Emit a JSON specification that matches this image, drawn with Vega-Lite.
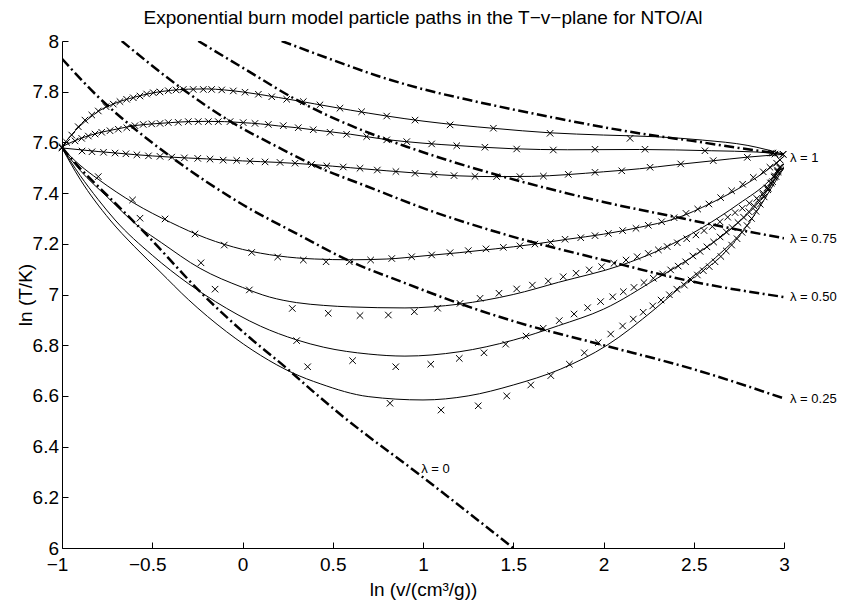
{
  "$schema": "https://vega.github.io/schema/vega-lite/v6.json",
  "width": 722,
  "height": 507,
  "autosize": {"type": "none"},
  "padding": {"left": 62, "top": 41, "right": 57, "bottom": 54},
  "background": "white",
  "config": {
    "view": {"stroke": null},
    "font": "Liberation Sans",
    "axis": {
      "grid": false,
      "domainColor": "black",
      "domainWidth": 1,
      "tickColor": "black",
      "tickWidth": 1,
      "tickSize": -6,
      "labelColor": "black",
      "labelFont": "Liberation Sans",
      "labelFontSize": 19,
      "labelFlush": false,
      "labelOverlap": false,
      "titleFont": "Liberation Sans",
      "titleFontSize": 19,
      "titleFontWeight": "normal",
      "titleColor": "black"
    }
  },
  "title": {
    "text": "Exponential burn model particle paths in the T−v−plane for NTO/Al",
    "font": "Liberation Sans",
    "fontSize": 19,
    "fontWeight": "normal",
    "color": "black",
    "anchor": "middle",
    "baseline": "alphabetic",
    "offset": -11
  },
  "datasets": {
    "lam": [
      {"c": "L1", "x": 0.217, "y": 8}, {"c": "L1", "x": 0.5, "y": 7.925}, {"c": "L1", "x": 0.75, "y": 7.862}, {"c": "L1", "x": 1, "y": 7.81}, {"c": "L1", "x": 1.25, "y": 7.768}, {"c": "L1", "x": 1.5, "y": 7.73}, {"c": "L1", "x": 1.75, "y": 7.694}, {"c": "L1", "x": 2, "y": 7.66}, {"c": "L1", "x": 2.25, "y": 7.63}, {"c": "L1", "x": 2.5, "y": 7.605}, {"c": "L1", "x": 2.75, "y": 7.578}, {"c": "L1", "x": 3, "y": 7.553},
      {"c": "L075", "x": -0.245, "y": 8}, {"c": "L075", "x": 0, "y": 7.895}, {"c": "L075", "x": 0.33, "y": 7.756}, {"c": "L075", "x": 0.72, "y": 7.632}, {"c": "L075", "x": 0.91, "y": 7.583}, {"c": "L075", "x": 1.35, "y": 7.484}, {"c": "L075", "x": 1.76, "y": 7.406}, {"c": "L075", "x": 2, "y": 7.365}, {"c": "L075", "x": 2.39, "y": 7.307}, {"c": "L075", "x": 2.7, "y": 7.262}, {"c": "L075", "x": 3, "y": 7.222},
      {"c": "L05", "x": -0.669, "y": 8}, {"c": "L05", "x": -0.337, "y": 7.813}, {"c": "L05", "x": -0.079, "y": 7.688}, {"c": "L05", "x": 0.2, "y": 7.58}, {"c": "L05", "x": 0.402, "y": 7.508}, {"c": "L05", "x": 0.688, "y": 7.427}, {"c": "L05", "x": 1.055, "y": 7.327}, {"c": "L05", "x": 1.463, "y": 7.235}, {"c": "L05", "x": 2, "y": 7.136}, {"c": "L05", "x": 2.5, "y": 7.05}, {"c": "L05", "x": 3, "y": 6.99},
      {"c": "L025", "x": -1, "y": 7.93}, {"c": "L025", "x": -0.8, "y": 7.78}, {"c": "L025", "x": -0.6, "y": 7.655}, {"c": "L025", "x": -0.4, "y": 7.545}, {"c": "L025", "x": -0.2, "y": 7.445}, {"c": "L025", "x": 0, "y": 7.355}, {"c": "L025", "x": 0.3, "y": 7.24}, {"c": "L025", "x": 0.6, "y": 7.13}, {"c": "L025", "x": 0.9, "y": 7.045}, {"c": "L025", "x": 1.2, "y": 6.965}, {"c": "L025", "x": 1.5, "y": 6.895}, {"c": "L025", "x": 2, "y": 6.8}, {"c": "L025", "x": 2.5, "y": 6.705}, {"c": "L025", "x": 3, "y": 6.59},
      {"c": "L0", "x": -1, "y": 7.58}, {"c": "L0", "x": -0.9, "y": 7.498}, {"c": "L0", "x": -0.75, "y": 7.392}, {"c": "L0", "x": -0.53, "y": 7.235}, {"c": "L0", "x": -0.235, "y": 7.011}, {"c": "L0", "x": 0.023, "y": 6.84}, {"c": "L0", "x": 0.245, "y": 6.709}, {"c": "L0", "x": 0.392, "y": 6.617}, {"c": "L0", "x": 0.558, "y": 6.518}, {"c": "L0", "x": 0.983, "y": 6.288}, {"c": "L0", "x": 1.5, "y": 6}
    ],
    "paths": [
      {"c": "S1", "x": -1, "y": 7.583}, {"c": "S1", "x": -0.95, "y": 7.628}, {"c": "S1", "x": -0.9, "y": 7.665}, {"c": "S1", "x": -0.85, "y": 7.695}, {"c": "S1", "x": -0.8, "y": 7.722}, {"c": "S1", "x": -0.7, "y": 7.756}, {"c": "S1", "x": -0.6, "y": 7.778}, {"c": "S1", "x": -0.5, "y": 7.795}, {"c": "S1", "x": -0.4, "y": 7.805}, {"c": "S1", "x": -0.3, "y": 7.81}, {"c": "S1", "x": -0.2, "y": 7.811}, {"c": "S1", "x": -0.1, "y": 7.807}, {"c": "S1", "x": 0, "y": 7.799}, {"c": "S1", "x": 0.2, "y": 7.777}, {"c": "S1", "x": 0.4, "y": 7.752}, {"c": "S1", "x": 0.6, "y": 7.727}, {"c": "S1", "x": 0.8, "y": 7.704}, {"c": "S1", "x": 1, "y": 7.684}, {"c": "S1", "x": 1.2, "y": 7.668}, {"c": "S1", "x": 1.4, "y": 7.655}, {"c": "S1", "x": 1.7, "y": 7.638}, {"c": "S1", "x": 2, "y": 7.629}, {"c": "S1", "x": 2.3, "y": 7.622}, {"c": "S1", "x": 2.55, "y": 7.609}, {"c": "S1", "x": 2.8, "y": 7.588}, {"c": "S1", "x": 3, "y": 7.553},
      {"c": "S2", "x": -1, "y": 7.583}, {"c": "S2", "x": -0.9, "y": 7.615}, {"c": "S2", "x": -0.8, "y": 7.637}, {"c": "S2", "x": -0.7, "y": 7.652}, {"c": "S2", "x": -0.6, "y": 7.666}, {"c": "S2", "x": -0.5, "y": 7.673}, {"c": "S2", "x": -0.4, "y": 7.678}, {"c": "S2", "x": -0.3, "y": 7.682}, {"c": "S2", "x": -0.2, "y": 7.683}, {"c": "S2", "x": -0.1, "y": 7.682}, {"c": "S2", "x": 0, "y": 7.678}, {"c": "S2", "x": 0.1, "y": 7.673}, {"c": "S2", "x": 0.2, "y": 7.665}, {"c": "S2", "x": 0.3, "y": 7.658}, {"c": "S2", "x": 0.4, "y": 7.649}, {"c": "S2", "x": 0.6, "y": 7.632}, {"c": "S2", "x": 0.8, "y": 7.611}, {"c": "S2", "x": 1, "y": 7.597}, {"c": "S2", "x": 1.2, "y": 7.587}, {"c": "S2", "x": 1.5, "y": 7.575}, {"c": "S2", "x": 1.8, "y": 7.571}, {"c": "S2", "x": 2.2, "y": 7.572}, {"c": "S2", "x": 2.6, "y": 7.567}, {"c": "S2", "x": 2.85, "y": 7.562}, {"c": "S2", "x": 3, "y": 7.553},
      {"c": "S3", "x": -1, "y": 7.578}, {"c": "S3", "x": -0.8, "y": 7.564}, {"c": "S3", "x": -0.6, "y": 7.552}, {"c": "S3", "x": -0.4, "y": 7.542}, {"c": "S3", "x": -0.2, "y": 7.535}, {"c": "S3", "x": 0, "y": 7.527}, {"c": "S3", "x": 0.2, "y": 7.521}, {"c": "S3", "x": 0.4, "y": 7.512}, {"c": "S3", "x": 0.6, "y": 7.5}, {"c": "S3", "x": 0.8, "y": 7.488}, {"c": "S3", "x": 1, "y": 7.477}, {"c": "S3", "x": 1.2, "y": 7.468}, {"c": "S3", "x": 1.4, "y": 7.465}, {"c": "S3", "x": 1.6, "y": 7.466}, {"c": "S3", "x": 1.8, "y": 7.473}, {"c": "S3", "x": 2, "y": 7.484}, {"c": "S3", "x": 2.2, "y": 7.496}, {"c": "S3", "x": 2.4, "y": 7.512}, {"c": "S3", "x": 2.6, "y": 7.527}, {"c": "S3", "x": 2.8, "y": 7.542}, {"c": "S3", "x": 3, "y": 7.553},
      {"c": "S4", "x": -1, "y": 7.578}, {"c": "S4", "x": -0.9, "y": 7.51}, {"c": "S4", "x": -0.8, "y": 7.455}, {"c": "S4", "x": -0.6, "y": 7.36}, {"c": "S4", "x": -0.4, "y": 7.285}, {"c": "S4", "x": -0.2, "y": 7.222}, {"c": "S4", "x": 0, "y": 7.178}, {"c": "S4", "x": 0.2, "y": 7.152}, {"c": "S4", "x": 0.4, "y": 7.14}, {"c": "S4", "x": 0.6, "y": 7.137}, {"c": "S4", "x": 0.8, "y": 7.14}, {"c": "S4", "x": 1, "y": 7.152}, {"c": "S4", "x": 1.2, "y": 7.165}, {"c": "S4", "x": 1.4, "y": 7.18}, {"c": "S4", "x": 1.6, "y": 7.197}, {"c": "S4", "x": 1.8, "y": 7.218}, {"c": "S4", "x": 2, "y": 7.238}, {"c": "S4", "x": 2.2, "y": 7.265}, {"c": "S4", "x": 2.4, "y": 7.3}, {"c": "S4", "x": 2.6, "y": 7.362}, {"c": "S4", "x": 2.8, "y": 7.44}, {"c": "S4", "x": 2.9, "y": 7.487}, {"c": "S4", "x": 3, "y": 7.545},
      {"c": "S5", "x": -1, "y": 7.578}, {"c": "S5", "x": -0.9, "y": 7.49}, {"c": "S5", "x": -0.75, "y": 7.385}, {"c": "S5", "x": -0.57, "y": 7.265}, {"c": "S5", "x": -0.45, "y": 7.205}, {"c": "S5", "x": -0.235, "y": 7.103}, {"c": "S5", "x": 0, "y": 7.028}, {"c": "S5", "x": 0.15, "y": 6.99}, {"c": "S5", "x": 0.3, "y": 6.968}, {"c": "S5", "x": 0.45, "y": 6.957}, {"c": "S5", "x": 0.6, "y": 6.951}, {"c": "S5", "x": 0.9, "y": 6.947}, {"c": "S5", "x": 1.2, "y": 6.962}, {"c": "S5", "x": 1.5, "y": 7}, {"c": "S5", "x": 1.75, "y": 7.048}, {"c": "S5", "x": 2.1, "y": 7.116}, {"c": "S5", "x": 2.3, "y": 7.172}, {"c": "S5", "x": 2.55, "y": 7.265}, {"c": "S5", "x": 2.75, "y": 7.358}, {"c": "S5", "x": 2.92, "y": 7.45}, {"c": "S5", "x": 3, "y": 7.515},
      {"c": "S6", "x": -1, "y": 7.578}, {"c": "S6", "x": -0.9, "y": 7.47}, {"c": "S6", "x": -0.8, "y": 7.375}, {"c": "S6", "x": -0.706, "y": 7.294}, {"c": "S6", "x": -0.5, "y": 7.155}, {"c": "S6", "x": -0.3, "y": 7.043}, {"c": "S6", "x": -0.15, "y": 6.972}, {"c": "S6", "x": 0.1, "y": 6.875}, {"c": "S6", "x": 0.3, "y": 6.821}, {"c": "S6", "x": 0.45, "y": 6.792}, {"c": "S6", "x": 0.7, "y": 6.765}, {"c": "S6", "x": 0.9, "y": 6.757}, {"c": "S6", "x": 1.2, "y": 6.774}, {"c": "S6", "x": 1.5, "y": 6.82}, {"c": "S6", "x": 1.75, "y": 6.877}, {"c": "S6", "x": 2, "y": 6.942}, {"c": "S6", "x": 2.3, "y": 7.065}, {"c": "S6", "x": 2.55, "y": 7.176}, {"c": "S6", "x": 2.72, "y": 7.267}, {"c": "S6", "x": 2.87, "y": 7.373}, {"c": "S6", "x": 2.96, "y": 7.465}, {"c": "S6", "x": 3, "y": 7.505},
      {"c": "S7", "x": -1, "y": 7.578}, {"c": "S7", "x": -0.9, "y": 7.455}, {"c": "S7", "x": -0.734, "y": 7.294}, {"c": "S7", "x": -0.6, "y": 7.19}, {"c": "S7", "x": -0.457, "y": 7.09}, {"c": "S7", "x": -0.3, "y": 6.98}, {"c": "S7", "x": -0.088, "y": 6.853}, {"c": "S7", "x": 0.1, "y": 6.76}, {"c": "S7", "x": 0.28, "y": 6.69}, {"c": "S7", "x": 0.43, "y": 6.648}, {"c": "S7", "x": 0.7, "y": 6.597}, {"c": "S7", "x": 1, "y": 6.584}, {"c": "S7", "x": 1.25, "y": 6.6}, {"c": "S7", "x": 1.5, "y": 6.643}, {"c": "S7", "x": 1.76, "y": 6.705}, {"c": "S7", "x": 2.02, "y": 6.8}, {"c": "S7", "x": 2.28, "y": 6.94}, {"c": "S7", "x": 2.46, "y": 7.05}, {"c": "S7", "x": 2.62, "y": 7.145}, {"c": "S7", "x": 2.79, "y": 7.267}, {"c": "S7", "x": 2.9, "y": 7.385}, {"c": "S7", "x": 2.98, "y": 7.478}, {"c": "S7", "x": 3, "y": 7.5}
    ],
    "pts": [
      {"c": "S1", "x": -1, "y": 7.583}, {"c": "S1", "x": -0.974, "y": 7.6}, {"c": "S1", "x": -0.946, "y": 7.629}, {"c": "S1", "x": -0.91, "y": 7.662}, {"c": "S1", "x": -0.873, "y": 7.688}, {"c": "S1", "x": -0.835, "y": 7.708}, {"c": "S1", "x": -0.799, "y": 7.724}, {"c": "S1", "x": -0.756, "y": 7.741}, {"c": "S1", "x": -0.716, "y": 7.751}, {"c": "S1", "x": -0.679, "y": 7.761}, {"c": "S1", "x": -0.642, "y": 7.77}, {"c": "S1", "x": -0.605, "y": 7.776}, {"c": "S1", "x": -0.568, "y": 7.783}, {"c": "S1", "x": -0.531, "y": 7.791}, {"c": "S1", "x": -0.494, "y": 7.796}, {"c": "S1", "x": -0.457, "y": 7.799}, {"c": "S1", "x": -0.411, "y": 7.804}, {"c": "S1", "x": -0.368, "y": 7.807}, {"c": "S1", "x": -0.328, "y": 7.809}, {"c": "S1", "x": -0.273, "y": 7.809}, {"c": "S1", "x": -0.217, "y": 7.809}, {"c": "S1", "x": -0.171, "y": 7.809}, {"c": "S1", "x": -0.115, "y": 7.807}, {"c": "S1", "x": -0.051, "y": 7.803}, {"c": "S1", "x": 0.014, "y": 7.798}, {"c": "S1", "x": 0.088, "y": 7.79}, {"c": "S1", "x": 0.162, "y": 7.78}, {"c": "S1", "x": 0.245, "y": 7.77}, {"c": "S1", "x": 0.337, "y": 7.761}, {"c": "S1", "x": 0.429, "y": 7.748}, {"c": "S1", "x": 0.54, "y": 7.735}, {"c": "S1", "x": 0.66, "y": 7.721}, {"c": "S1", "x": 0.799, "y": 7.704}, {"c": "S1", "x": 0.956, "y": 7.688}, {"c": "S1", "x": 1.15, "y": 7.669}, {"c": "S1", "x": 1.39, "y": 7.656}, {"c": "S1", "x": 1.704, "y": 7.636}, {"c": "S1", "x": 2.147, "y": 7.616}, {"c": "S1", "x": 2.939, "y": 7.558}, {"c": "S1", "x": 2.995, "y": 7.553},
      {"c": "S2", "x": -0.928, "y": 7.606}, {"c": "S2", "x": -0.891, "y": 7.616}, {"c": "S2", "x": -0.854, "y": 7.625}, {"c": "S2", "x": -0.817, "y": 7.633}, {"c": "S2", "x": -0.78, "y": 7.64}, {"c": "S2", "x": -0.734, "y": 7.646}, {"c": "S2", "x": -0.688, "y": 7.652}, {"c": "S2", "x": -0.641, "y": 7.658}, {"c": "S2", "x": -0.596, "y": 7.666}, {"c": "S2", "x": -0.55, "y": 7.671}, {"c": "S2", "x": -0.503, "y": 7.673}, {"c": "S2", "x": -0.457, "y": 7.675}, {"c": "S2", "x": -0.411, "y": 7.678}, {"c": "S2", "x": -0.356, "y": 7.679}, {"c": "S2", "x": -0.3, "y": 7.682}, {"c": "S2", "x": -0.245, "y": 7.682}, {"c": "S2", "x": -0.189, "y": 7.682}, {"c": "S2", "x": -0.134, "y": 7.682}, {"c": "S2", "x": -0.069, "y": 7.682}, {"c": "S2", "x": 0.004, "y": 7.678}, {"c": "S2", "x": 0.069, "y": 7.675}, {"c": "S2", "x": 0.143, "y": 7.671}, {"c": "S2", "x": 0.226, "y": 7.666}, {"c": "S2", "x": 0.309, "y": 7.658}, {"c": "S2", "x": 0.392, "y": 7.65}, {"c": "S2", "x": 0.485, "y": 7.64}, {"c": "S2", "x": 0.577, "y": 7.632}, {"c": "S2", "x": 0.688, "y": 7.623}, {"c": "S2", "x": 0.799, "y": 7.61}, {"c": "S2", "x": 0.91, "y": 7.603}, {"c": "S2", "x": 1.048, "y": 7.594}, {"c": "S2", "x": 1.187, "y": 7.587}, {"c": "S2", "x": 1.343, "y": 7.581}, {"c": "S2", "x": 1.519, "y": 7.574}, {"c": "S2", "x": 1.722, "y": 7.57}, {"c": "S2", "x": 1.953, "y": 7.573}, {"c": "S2", "x": 2.23, "y": 7.573}, {"c": "S2", "x": 2.562, "y": 7.567}, {"c": "S2", "x": 2.93, "y": 7.558},
      {"c": "S3", "x": -1, "y": 7.578}, {"c": "S3", "x": -0.889, "y": 7.566}, {"c": "S3", "x": -0.834, "y": 7.563}, {"c": "S3", "x": -0.77, "y": 7.561}, {"c": "S3", "x": -0.706, "y": 7.558}, {"c": "S3", "x": -0.646, "y": 7.555}, {"c": "S3", "x": -0.585, "y": 7.551}, {"c": "S3", "x": -0.521, "y": 7.547}, {"c": "S3", "x": -0.457, "y": 7.545}, {"c": "S3", "x": -0.392, "y": 7.542}, {"c": "S3", "x": -0.322, "y": 7.539}, {"c": "S3", "x": -0.248, "y": 7.537}, {"c": "S3", "x": -0.18, "y": 7.534}, {"c": "S3", "x": -0.107, "y": 7.53}, {"c": "S3", "x": -0.032, "y": 7.529}, {"c": "S3", "x": 0.042, "y": 7.526}, {"c": "S3", "x": 0.125, "y": 7.523}, {"c": "S3", "x": 0.208, "y": 7.521}, {"c": "S3", "x": 0.291, "y": 7.518}, {"c": "S3", "x": 0.383, "y": 7.513}, {"c": "S3", "x": 0.467, "y": 7.507}, {"c": "S3", "x": 0.558, "y": 7.503}, {"c": "S3", "x": 0.651, "y": 7.498}, {"c": "S3", "x": 0.747, "y": 7.491}, {"c": "S3", "x": 0.85, "y": 7.485}, {"c": "S3", "x": 0.956, "y": 7.478}, {"c": "S3", "x": 1.061, "y": 7.474}, {"c": "S3", "x": 1.172, "y": 7.469}, {"c": "S3", "x": 1.288, "y": 7.466}, {"c": "S3", "x": 1.408, "y": 7.465}, {"c": "S3", "x": 1.537, "y": 7.465}, {"c": "S3", "x": 1.667, "y": 7.467}, {"c": "S3", "x": 1.805, "y": 7.474}, {"c": "S3", "x": 1.953, "y": 7.482}, {"c": "S3", "x": 2.101, "y": 7.488}, {"c": "S3", "x": 2.258, "y": 7.502}, {"c": "S3", "x": 2.428, "y": 7.515}, {"c": "S3", "x": 2.608, "y": 7.528}, {"c": "S3", "x": 2.797, "y": 7.541}, {"c": "S3", "x": 2.95, "y": 7.554},
      {"c": "S4", "x": -0.799, "y": 7.465}, {"c": "S4", "x": -0.609, "y": 7.373}, {"c": "S4", "x": -0.429, "y": 7.298}, {"c": "S4", "x": -0.263, "y": 7.239}, {"c": "S4", "x": -0.101, "y": 7.195}, {"c": "S4", "x": 0.051, "y": 7.166}, {"c": "S4", "x": 0.195, "y": 7.148}, {"c": "S4", "x": 0.337, "y": 7.136}, {"c": "S4", "x": 0.463, "y": 7.129}, {"c": "S4", "x": 0.592, "y": 7.129}, {"c": "S4", "x": 0.71, "y": 7.136}, {"c": "S4", "x": 0.827, "y": 7.142}, {"c": "S4", "x": 0.937, "y": 7.149}, {"c": "S4", "x": 1.048, "y": 7.156}, {"c": "S4", "x": 1.15, "y": 7.165}, {"c": "S4", "x": 1.251, "y": 7.173}, {"c": "S4", "x": 1.349, "y": 7.18}, {"c": "S4", "x": 1.445, "y": 7.186}, {"c": "S4", "x": 1.537, "y": 7.192}, {"c": "S4", "x": 1.62, "y": 7.199}, {"c": "S4", "x": 1.707, "y": 7.205}, {"c": "S4", "x": 1.787, "y": 7.218}, {"c": "S4", "x": 1.874, "y": 7.224}, {"c": "S4", "x": 1.953, "y": 7.232}, {"c": "S4", "x": 2.027, "y": 7.241}, {"c": "S4", "x": 2.106, "y": 7.252}, {"c": "S4", "x": 2.18, "y": 7.261}, {"c": "S4", "x": 2.248, "y": 7.273}, {"c": "S4", "x": 2.322, "y": 7.287}, {"c": "S4", "x": 2.391, "y": 7.303}, {"c": "S4", "x": 2.457, "y": 7.32}, {"c": "S4", "x": 2.522, "y": 7.337}, {"c": "S4", "x": 2.584, "y": 7.357}, {"c": "S4", "x": 2.649, "y": 7.382}, {"c": "S4", "x": 2.71, "y": 7.409}, {"c": "S4", "x": 2.771, "y": 7.435}, {"c": "S4", "x": 2.83, "y": 7.462}, {"c": "S4", "x": 2.885, "y": 7.484}, {"c": "S4", "x": 2.922, "y": 7.502}, {"c": "S4", "x": 2.959, "y": 7.518}, {"c": "S4", "x": 2.978, "y": 7.531}, {"c": "S4", "x": 2.995, "y": 7.553},
      {"c": "S5", "x": -0.568, "y": 7.301}, {"c": "S5", "x": -0.23, "y": 7.125}, {"c": "S5", "x": 0.038, "y": 7.018}, {"c": "S5", "x": 0.276, "y": 6.945}, {"c": "S5", "x": 0.475, "y": 6.926}, {"c": "S5", "x": 0.651, "y": 6.917}, {"c": "S5", "x": 0.808, "y": 6.919}, {"c": "S5", "x": 0.952, "y": 6.932}, {"c": "S5", "x": 1.081, "y": 6.946}, {"c": "S5", "x": 1.205, "y": 6.965}, {"c": "S5", "x": 1.316, "y": 6.985}, {"c": "S5", "x": 1.421, "y": 7.005}, {"c": "S5", "x": 1.519, "y": 7.022}, {"c": "S5", "x": 1.606, "y": 7.037}, {"c": "S5", "x": 1.694, "y": 7.053}, {"c": "S5", "x": 1.777, "y": 7.07}, {"c": "S5", "x": 1.848, "y": 7.084}, {"c": "S5", "x": 1.921, "y": 7.097}, {"c": "S5", "x": 1.99, "y": 7.11}, {"c": "S5", "x": 2.058, "y": 7.123}, {"c": "S5", "x": 2.125, "y": 7.136}, {"c": "S5", "x": 2.187, "y": 7.149}, {"c": "S5", "x": 2.248, "y": 7.162}, {"c": "S5", "x": 2.304, "y": 7.176}, {"c": "S5", "x": 2.353, "y": 7.189}, {"c": "S5", "x": 2.409, "y": 7.204}, {"c": "S5", "x": 2.461, "y": 7.22}, {"c": "S5", "x": 2.512, "y": 7.235}, {"c": "S5", "x": 2.557, "y": 7.252}, {"c": "S5", "x": 2.603, "y": 7.268}, {"c": "S5", "x": 2.645, "y": 7.287}, {"c": "S5", "x": 2.688, "y": 7.305}, {"c": "S5", "x": 2.729, "y": 7.323}, {"c": "S5", "x": 2.769, "y": 7.34}, {"c": "S5", "x": 2.808, "y": 7.36}, {"c": "S5", "x": 2.849, "y": 7.379}, {"c": "S5", "x": 2.885, "y": 7.399}, {"c": "S5", "x": 2.913, "y": 7.419}, {"c": "S5", "x": 2.937, "y": 7.445}, {"c": "S5", "x": 2.956, "y": 7.465}, {"c": "S5", "x": 2.968, "y": 7.484}, {"c": "S5", "x": 2.978, "y": 7.504},
      {"c": "S6", "x": -0.152, "y": 7.021}, {"c": "S6", "x": 0.3, "y": 6.818}, {"c": "S6", "x": 0.61, "y": 6.739}, {"c": "S6", "x": 0.849, "y": 6.715}, {"c": "S6", "x": 1.043, "y": 6.725}, {"c": "S6", "x": 1.201, "y": 6.748}, {"c": "S6", "x": 1.338, "y": 6.77}, {"c": "S6", "x": 1.458, "y": 6.804}, {"c": "S6", "x": 1.571, "y": 6.836}, {"c": "S6", "x": 1.666, "y": 6.867}, {"c": "S6", "x": 1.755, "y": 6.897}, {"c": "S6", "x": 1.837, "y": 6.923}, {"c": "S6", "x": 1.912, "y": 6.948}, {"c": "S6", "x": 1.984, "y": 6.972}, {"c": "S6", "x": 2.051, "y": 6.991}, {"c": "S6", "x": 2.11, "y": 7.011}, {"c": "S6", "x": 2.169, "y": 7.028}, {"c": "S6", "x": 2.224, "y": 7.047}, {"c": "S6", "x": 2.276, "y": 7.064}, {"c": "S6", "x": 2.328, "y": 7.081}, {"c": "S6", "x": 2.372, "y": 7.097}, {"c": "S6", "x": 2.414, "y": 7.112}, {"c": "S6", "x": 2.455, "y": 7.129}, {"c": "S6", "x": 2.495, "y": 7.152}, {"c": "S6", "x": 2.535, "y": 7.17}, {"c": "S6", "x": 2.573, "y": 7.188}, {"c": "S6", "x": 2.61, "y": 7.207}, {"c": "S6", "x": 2.646, "y": 7.227}, {"c": "S6", "x": 2.68, "y": 7.247}, {"c": "S6", "x": 2.713, "y": 7.264}, {"c": "S6", "x": 2.745, "y": 7.284}, {"c": "S6", "x": 2.776, "y": 7.305}, {"c": "S6", "x": 2.805, "y": 7.327}, {"c": "S6", "x": 2.833, "y": 7.35}, {"c": "S6", "x": 2.858, "y": 7.372}, {"c": "S6", "x": 2.882, "y": 7.395}, {"c": "S6", "x": 2.905, "y": 7.42}, {"c": "S6", "x": 2.925, "y": 7.44}, {"c": "S6", "x": 2.945, "y": 7.463}, {"c": "S6", "x": 2.962, "y": 7.485}, {"c": "S6", "x": 2.975, "y": 7.5},
      {"c": "S7", "x": 0.361, "y": 6.715}, {"c": "S7", "x": 0.817, "y": 6.571}, {"c": "S7", "x": 1.1, "y": 6.544}, {"c": "S7", "x": 1.306, "y": 6.561}, {"c": "S7", "x": 1.464, "y": 6.6}, {"c": "S7", "x": 1.597, "y": 6.643}, {"c": "S7", "x": 1.708, "y": 6.68}, {"c": "S7", "x": 1.811, "y": 6.725}, {"c": "S7", "x": 1.894, "y": 6.77}, {"c": "S7", "x": 1.971, "y": 6.81}, {"c": "S7", "x": 2.04, "y": 6.844}, {"c": "S7", "x": 2.106, "y": 6.876}, {"c": "S7", "x": 2.165, "y": 6.903}, {"c": "S7", "x": 2.22, "y": 6.93}, {"c": "S7", "x": 2.273, "y": 6.955}, {"c": "S7", "x": 2.319, "y": 6.978}, {"c": "S7", "x": 2.365, "y": 6.999}, {"c": "S7", "x": 2.406, "y": 7.021}, {"c": "S7", "x": 2.448, "y": 7.037}, {"c": "S7", "x": 2.485, "y": 7.057}, {"c": "S7", "x": 2.52, "y": 7.077}, {"c": "S7", "x": 2.553, "y": 7.094}, {"c": "S7", "x": 2.586, "y": 7.11}, {"c": "S7", "x": 2.618, "y": 7.129}, {"c": "S7", "x": 2.65, "y": 7.15}, {"c": "S7", "x": 2.68, "y": 7.172}, {"c": "S7", "x": 2.71, "y": 7.195}, {"c": "S7", "x": 2.74, "y": 7.22}, {"c": "S7", "x": 2.768, "y": 7.245}, {"c": "S7", "x": 2.795, "y": 7.272}, {"c": "S7", "x": 2.82, "y": 7.3}, {"c": "S7", "x": 2.845, "y": 7.328}, {"c": "S7", "x": 2.868, "y": 7.356}, {"c": "S7", "x": 2.89, "y": 7.385}, {"c": "S7", "x": 2.91, "y": 7.413}, {"c": "S7", "x": 2.93, "y": 7.44}, {"c": "S7", "x": 2.948, "y": 7.467}, {"c": "S7", "x": 2.965, "y": 7.49}
    ],
    "labels": [
      {"t": "λ = 1", "x": 3, "y": 7.537},
      {"t": "λ = 0.75", "x": 3, "y": 7.218},
      {"t": "λ = 0.50", "x": 3, "y": 6.99},
      {"t": "λ = 0.25", "x": 3, "y": 6.587},
      {"t": "λ = 0", "x": 0.957, "y": 6.31}
    ]
  },
  "encoding": {
    "x": {
      "field": "x",
      "type": "quantitative",
      "scale": {"domain": [-1, 3], "nice": false, "zero": false},
      "axis": {
        "values": [-1, -0.5, 0, 0.5, 1, 1.5, 2, 2.5, 3],
        "format": ".1~f",
        "labelPadding": 13,
        "labelOffset": {"condition": {"test": "datum.value < 0", "value": -5}, "value": 0},
        "title": "ln (v/(cm³/g))",
        "titleX": 361,
        "titleY": 47,
        "titleAlign": "center",
        "titleBaseline": "alphabetic"
      }
    },
    "y": {
      "field": "y",
      "type": "quantitative",
      "scale": {"domain": [6, 8], "nice": false, "zero": false},
      "axis": {
        "values": [6, 6.2, 6.4, 6.6, 6.8, 7, 7.2, 7.4, 7.6, 7.8, 8],
        "format": ".1~f",
        "labelPadding": 9.5,
        "title": "ln (T/K)",
        "titleX": -31,
        "titleY": 253.5,
        "titleAngle": 270,
        "titleAlign": "center",
        "titleBaseline": "alphabetic"
      }
    }
  },
  "layer": [
    {
      "data": {"name": "lam"},
      "mark": {"type": "line", "stroke": "black", "strokeWidth": 2.5, "strokeDash": [10, 3.5, 2, 3.5], "interpolate": "monotone", "clip": true},
      "encoding": {"detail": {"field": "c"}}
    },
    {
      "data": {"name": "paths"},
      "mark": {"type": "line", "stroke": "black", "strokeWidth": 1, "interpolate": "monotone", "clip": true},
      "encoding": {"detail": {"field": "c"}}
    },
    {
      "data": {"name": "pts"},
      "mark": {"type": "point", "shape": "M-1,-1L1,1M-1,1L1,-1", "filled": false, "stroke": "black", "strokeWidth": 1, "size": 42, "opacity": 1},
      "encoding": {}
    },
    {
      "data": {"name": "labels"},
      "mark": {"type": "text", "align": "left", "baseline": "middle", "dx": 6, "font": "Liberation Sans", "fontSize": 13, "color": "black"},
      "encoding": {"text": {"field": "t"}}
    }
  ]
}
